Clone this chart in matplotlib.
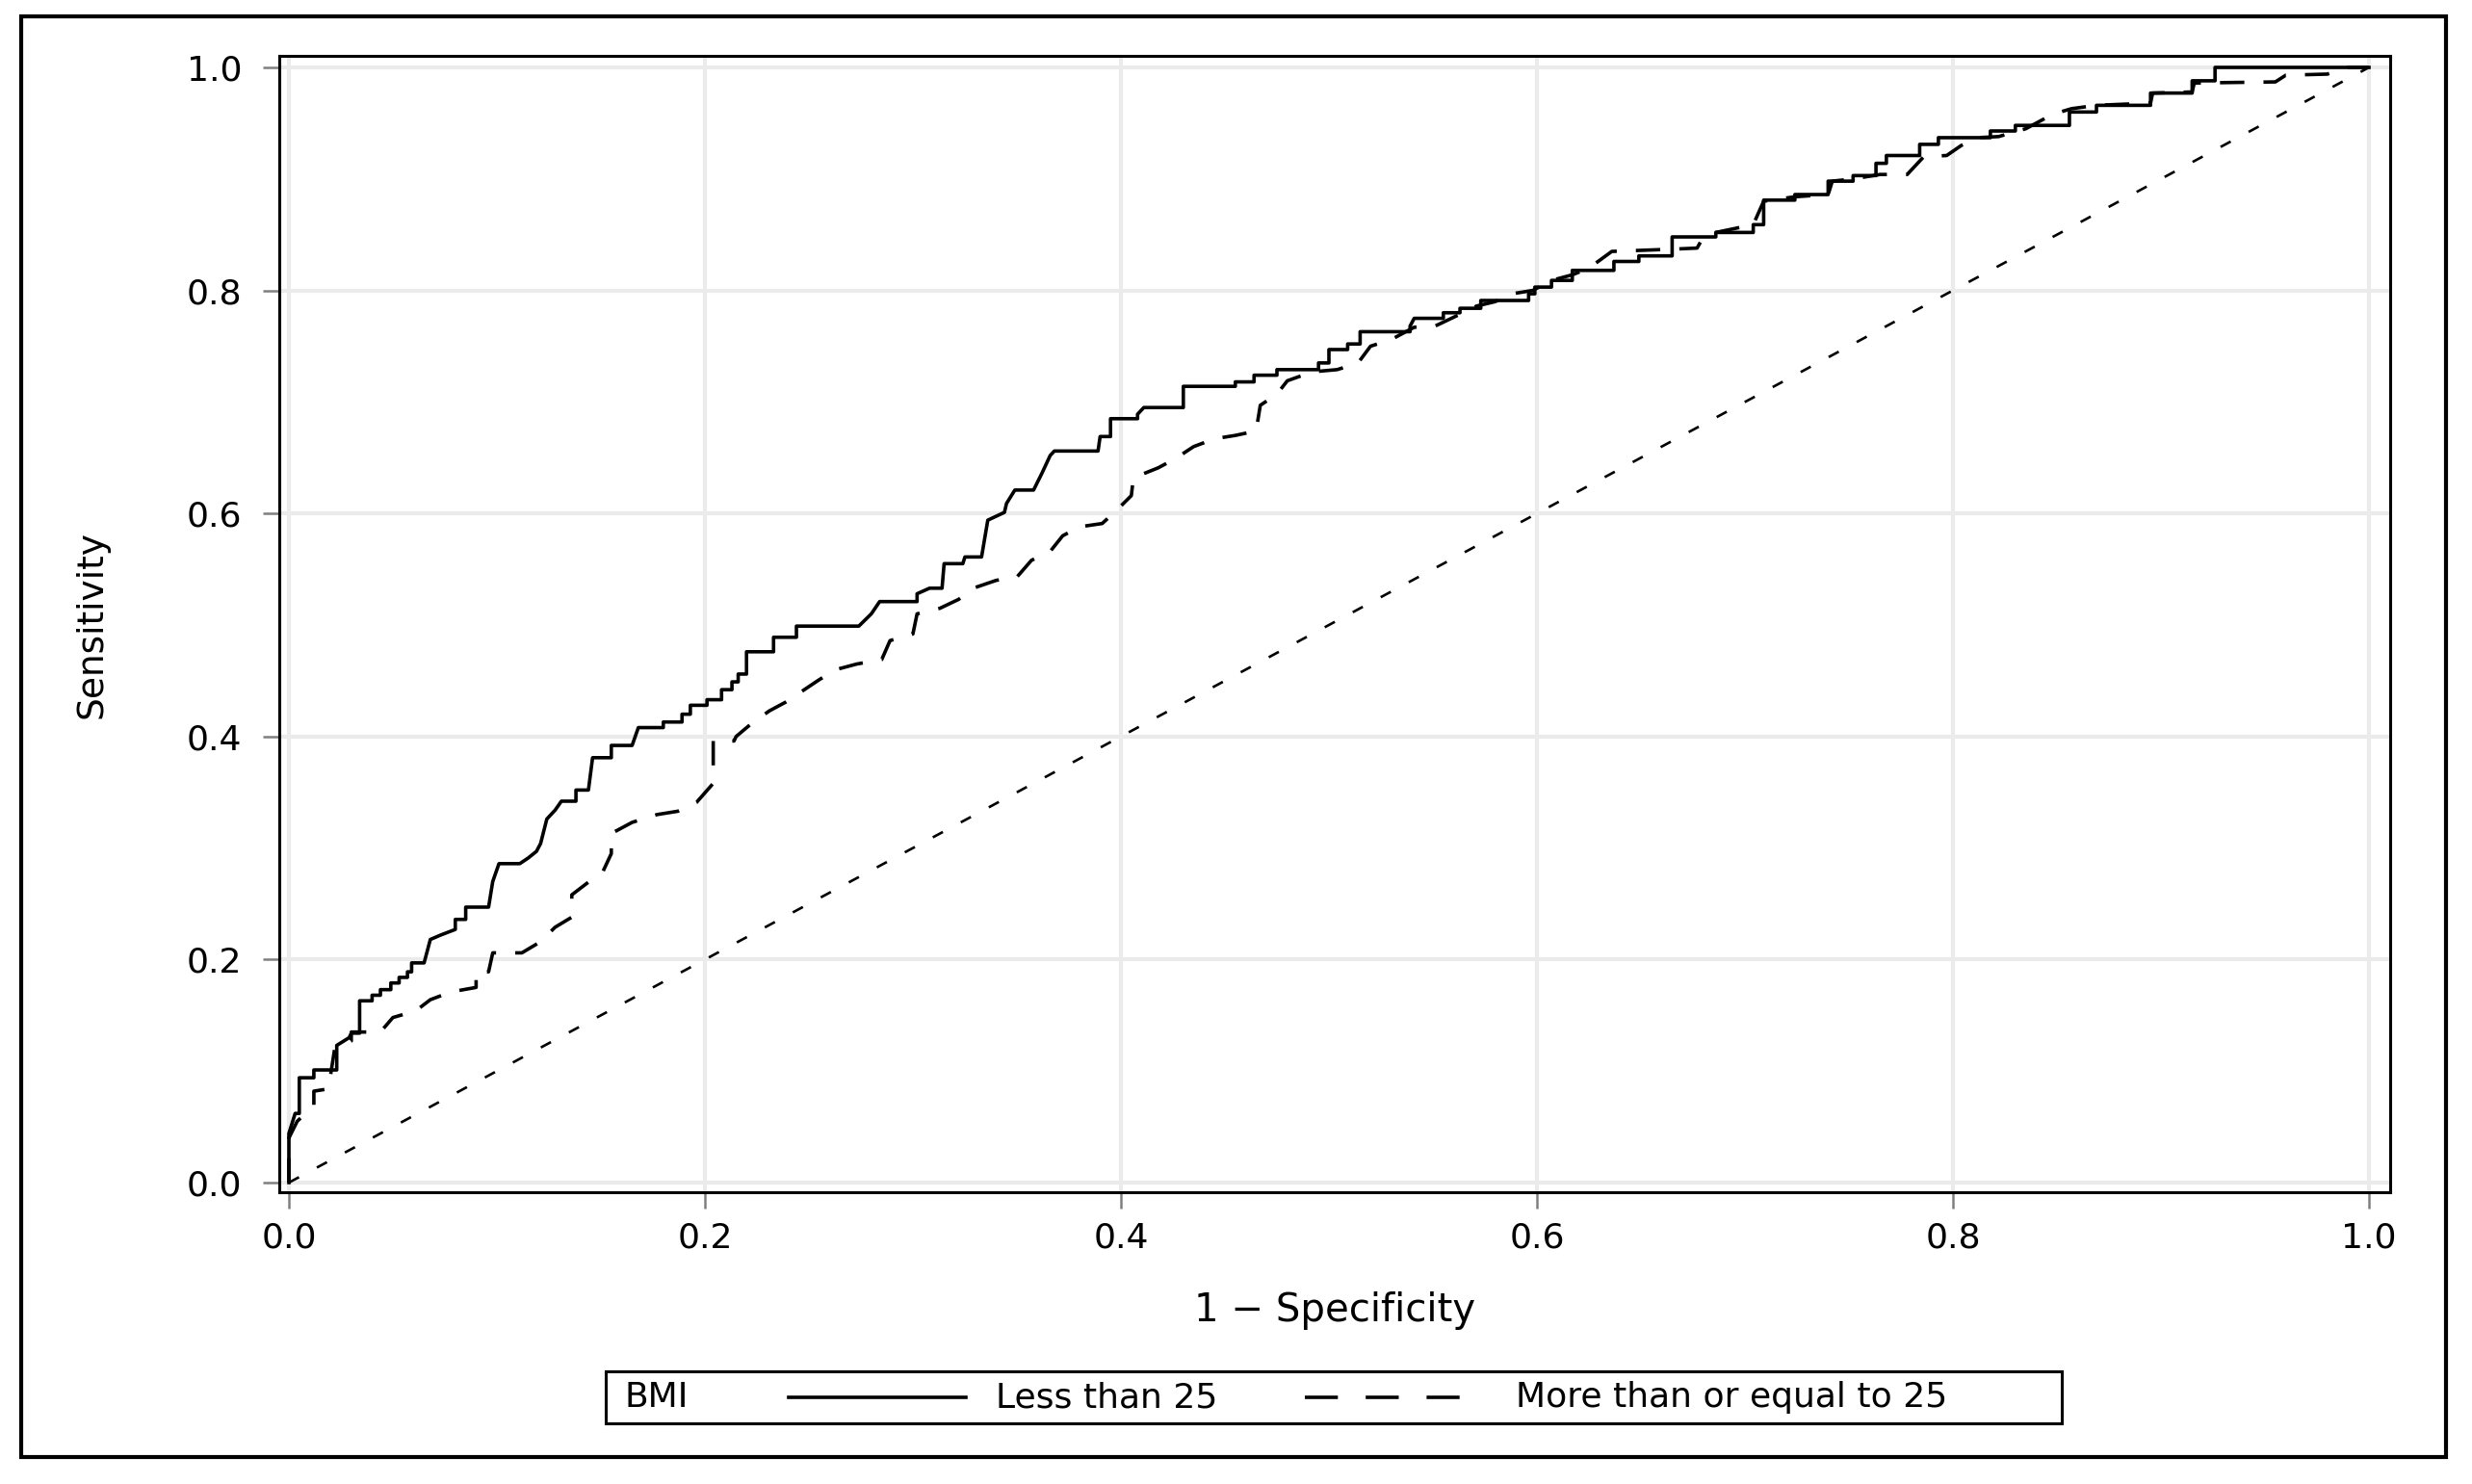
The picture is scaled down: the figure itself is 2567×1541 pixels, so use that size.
import matplotlib
matplotlib.use("Agg")
import matplotlib.pyplot as plt
from matplotlib.patches import Rectangle
from matplotlib.lines import Line2D

plt.rcParams['font.family'] = ['DejaVu Sans']

# ROC curve, BMI < 25 (1 - specificity, sensitivity)
fpr_low = [0.000, 0.000, 0.003, 0.005, 0.005, 0.012, 0.012, 0.023, 0.023, 0.029,
           0.030, 0.034, 0.034, 0.040, 0.040, 0.044, 0.044, 0.049, 0.049, 0.053,
           0.053, 0.057, 0.057, 0.059, 0.059, 0.065, 0.068, 0.073, 0.080, 0.080,
           0.085, 0.085, 0.096, 0.098, 0.101, 0.111, 0.115, 0.119, 0.121, 0.124,
           0.128, 0.131, 0.138, 0.138, 0.144, 0.146, 0.155, 0.155, 0.165, 0.168,
           0.180, 0.180, 0.189, 0.189, 0.193, 0.193, 0.201, 0.201, 0.208, 0.208,
           0.213, 0.213, 0.216, 0.216, 0.220, 0.220, 0.233, 0.233, 0.244, 0.244,
           0.274, 0.280, 0.284, 0.302, 0.302, 0.308, 0.314, 0.315, 0.324, 0.325,
           0.333, 0.336, 0.344, 0.345, 0.349, 0.358, 0.362, 0.366, 0.368, 0.389,
           0.390, 0.395, 0.395, 0.408, 0.408, 0.411, 0.430, 0.430, 0.455, 0.455,
           0.464, 0.464, 0.475, 0.475, 0.495, 0.495, 0.500, 0.500, 0.509, 0.509,
           0.515, 0.515, 0.539, 0.539, 0.541, 0.555, 0.555, 0.563, 0.563, 0.573,
           0.573, 0.596, 0.596, 0.599, 0.599, 0.607, 0.607, 0.617, 0.617, 0.637,
           0.637, 0.649, 0.649, 0.665, 0.665, 0.686, 0.686, 0.704, 0.704, 0.709,
           0.709, 0.724, 0.724, 0.740, 0.740, 0.752, 0.752, 0.763, 0.763, 0.768,
           0.768, 0.784, 0.784, 0.793, 0.793, 0.818, 0.818, 0.830, 0.830, 0.856,
           0.856, 0.869, 0.869, 0.895, 0.895, 0.915, 0.915, 0.926, 0.926, 1.000]
tpr_low = [0.000, 0.044, 0.062, 0.062, 0.094, 0.094, 0.101, 0.101, 0.123, 0.130,
           0.134, 0.134, 0.163, 0.163, 0.168, 0.168, 0.173, 0.173, 0.179, 0.179,
           0.184, 0.184, 0.189, 0.189, 0.197, 0.197, 0.218, 0.222, 0.227, 0.236,
           0.236, 0.247, 0.247, 0.270, 0.286, 0.286, 0.291, 0.297, 0.304, 0.326,
           0.334, 0.342, 0.342, 0.352, 0.352, 0.381, 0.381, 0.392, 0.392, 0.408,
           0.408, 0.413, 0.413, 0.420, 0.420, 0.428, 0.428, 0.433, 0.433, 0.442,
           0.442, 0.449, 0.449, 0.456, 0.456, 0.476, 0.476, 0.489, 0.489, 0.499,
           0.499, 0.510, 0.521, 0.521, 0.528, 0.533, 0.533, 0.555, 0.555, 0.561,
           0.561, 0.594, 0.601, 0.609, 0.621, 0.621, 0.636, 0.652, 0.656, 0.656,
           0.669, 0.669, 0.685, 0.685, 0.689, 0.695, 0.695, 0.714, 0.714, 0.718,
           0.718, 0.724, 0.724, 0.729, 0.729, 0.735, 0.735, 0.747, 0.747, 0.752,
           0.752, 0.763, 0.763, 0.768, 0.775, 0.775, 0.780, 0.780, 0.784, 0.784,
           0.791, 0.791, 0.797, 0.797, 0.803, 0.803, 0.809, 0.809, 0.818, 0.818,
           0.826, 0.826, 0.831, 0.831, 0.848, 0.848, 0.852, 0.852, 0.859, 0.859,
           0.881, 0.881, 0.886, 0.886, 0.898, 0.898, 0.903, 0.903, 0.914, 0.914,
           0.921, 0.921, 0.931, 0.931, 0.937, 0.937, 0.943, 0.943, 0.948, 0.948,
           0.960, 0.960, 0.966, 0.966, 0.977, 0.977, 0.988, 0.988, 1.000, 1.000]

# ROC curve, BMI >= 25
fpr_high = [0.000, 0.000, 0.004, 0.008, 0.012, 0.012, 0.019, 0.022, 0.030, 0.030,
            0.044, 0.050, 0.061, 0.068, 0.078, 0.090, 0.090, 0.096, 0.098, 0.112,
            0.121, 0.128, 0.136, 0.136, 0.143, 0.151, 0.155, 0.155, 0.165, 0.177,
            0.187, 0.196, 0.204, 0.204, 0.214, 0.215, 0.222, 0.231, 0.239, 0.247,
            0.255, 0.263, 0.273, 0.285, 0.289, 0.300, 0.302, 0.313, 0.322, 0.329,
            0.340, 0.350, 0.357, 0.366, 0.372, 0.380, 0.391, 0.398, 0.405, 0.406,
            0.418, 0.426, 0.435, 0.445, 0.455, 0.465, 0.467, 0.475, 0.480, 0.492,
            0.504, 0.514, 0.520, 0.530, 0.541, 0.551, 0.560, 0.571, 0.580, 0.588,
            0.598, 0.607, 0.617, 0.625, 0.636, 0.665, 0.677, 0.680, 0.686, 0.704,
            0.709, 0.724, 0.740, 0.742, 0.752, 0.765, 0.778, 0.786, 0.797, 0.804,
            0.812, 0.822, 0.835, 0.848, 0.857, 0.869, 0.895, 0.896, 0.915, 0.916,
            0.955, 0.960, 0.980, 0.990, 1.000]
tpr_high = [0.000, 0.040, 0.055, 0.062, 0.069, 0.082, 0.084, 0.120, 0.127, 0.135,
            0.135, 0.148, 0.154, 0.164, 0.171, 0.175, 0.189, 0.189, 0.206, 0.206,
            0.216, 0.229, 0.238, 0.258, 0.268, 0.279, 0.295, 0.313, 0.323, 0.330,
            0.333, 0.341, 0.358, 0.396, 0.396, 0.400, 0.411, 0.423, 0.431, 0.441,
            0.451, 0.460, 0.465, 0.469, 0.486, 0.492, 0.510, 0.515, 0.523, 0.533,
            0.540, 0.543, 0.558, 0.566, 0.580, 0.588, 0.591, 0.603, 0.616, 0.632,
            0.641, 0.649, 0.660, 0.667, 0.670, 0.674, 0.697, 0.707, 0.719, 0.727,
            0.729, 0.735, 0.750, 0.756, 0.767, 0.768, 0.776, 0.786, 0.790, 0.797,
            0.800, 0.809, 0.814, 0.820, 0.835, 0.837, 0.838, 0.848, 0.852, 0.859,
            0.880, 0.884, 0.886, 0.898, 0.900, 0.904, 0.904, 0.920, 0.921, 0.930,
            0.937, 0.938, 0.945, 0.958, 0.963, 0.966, 0.968, 0.977, 0.978, 0.986,
            0.987, 0.993, 0.994, 1.000, 1.000]

ref_line = [0.0, 1.0]
ticks = [0.0, 0.2, 0.4, 0.6, 0.8, 1.0]
tick_labels = ['0.0', '0.2', '0.4', '0.6', '0.8', '1.0']
legend_title = 'BMI'
legend_labels = ['Less than 25', 'More than or equal to 25']

W, H = 2567, 1541
fig = plt.figure(figsize=(W / 100, H / 100), dpi=100)

# outer border
fig.patches.append(Rectangle((22 / W, 1 - 1513 / H), (2540 - 22) / W, (1513 - 17) / H,
                             transform=fig.transFigure, fill=False, lw=3.0,
                             edgecolor='black'))

ax = fig.add_axes([290 / W, 1 - 1238 / H, (2482 - 290) / W, (1238 - 58) / H])

dash_style = (0, (7, 5.5))
ax.plot(ref_line, ref_line, color='black', lw=1.9, linestyle=(0, (4.5, 8)), zorder=2)
ax.plot(fpr_high, tpr_high, color='black', lw=2.6, linestyle=dash_style, zorder=3)
ax.plot(fpr_low, tpr_low, color='black', lw=2.6, linestyle='-', zorder=4)

ax.set_xlim(-10 / 2160, 2182 / 2160)
ax.set_ylim(-10 / 1158, 1170 / 1158)
ax.set_xticks(ticks)
ax.set_xticklabels(tick_labels)
ax.set_yticks(ticks)
ax.set_yticklabels(tick_labels)
ax.grid(True, color='#ebebeb', lw=3.0, zorder=0)
ax.set_axisbelow(True)

ax.tick_params(axis='both', direction='out', length=12, width=1.8, color='#808080',
               labelsize=26, labelcolor='black')
ax.tick_params(axis='x', pad=10)
ax.tick_params(axis='y', pad=16)
for s in ax.spines.values():
    s.set_linewidth(2.2)
    s.set_color('black')

ax.set_xlabel('1 \u2212 Specificity', fontsize=29)
ax.set_ylabel('Sensitivity', fontsize=27)
ax.xaxis.set_label_coords(0.5, -(1361 - 1238) / 1180)
ax.xaxis.label.set_va('center')
ax.yaxis.set_label_coords(-(290 - 95) / 2192, 0.5)
ax.yaxis.label.set_va('center')

# legend box drawn under the axes
ly = 1 - 1451 / H
fig.patches.append(Rectangle((629 / W, 1 - 1478 / H), (2141 - 629) / W, (1478 - 1424) / H,
                             transform=fig.transFigure, fill=False, lw=2.2,
                             edgecolor='black'))
fig.text(649 / W, ly, legend_title, fontsize=26, va='center', ha='left')
fig.lines.append(Line2D([819 / W, 1003 / W], [ly, ly], transform=fig.transFigure,
                        color='black', lw=2.6, linestyle='-'))
fig.text(1034 / W, ly, legend_labels[0], fontsize=26, va='center', ha='left')
fig.lines.append(Line2D([1355 / W, 1523 / W], [ly, ly], transform=fig.transFigure,
                        color='black', lw=2.6, linestyle=(0, (9.5, 8))))
fig.text(1574 / W, ly, legend_labels[1], fontsize=26, va='center', ha='left')

fig.savefig('out.png', dpi=100)
